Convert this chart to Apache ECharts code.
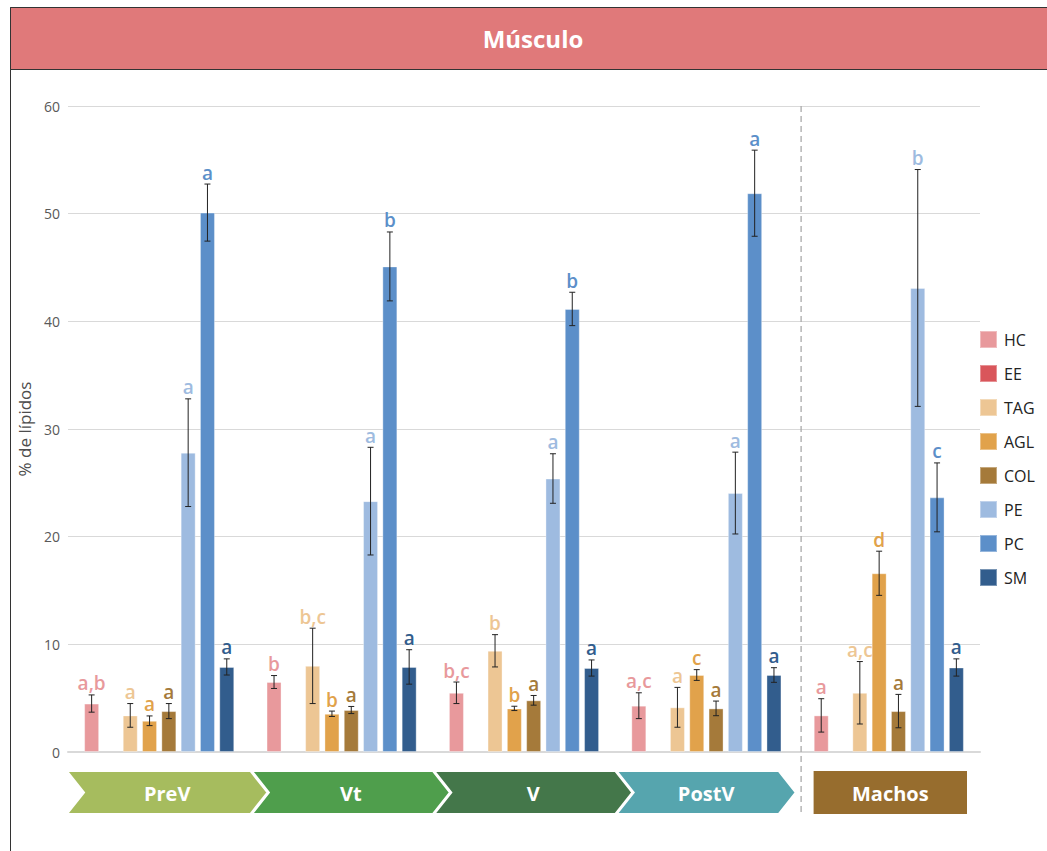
<!DOCTYPE html>
<html>
<head>
<meta charset="utf-8">
<script src="https://cdn.jsdelivr.net/npm/echarts@6/dist/echarts.min.js"></script>
<style>
  html, body { margin: 0; padding: 0; background: #fff; }
  #chart { width: 1047px; height: 851px; }
</style>
</head>
<body>
<div id="chart"></div>
<script>
// Stages / groups along the x axis
const groups = ['PreV', 'Vt', 'V', 'PostV', 'Machos'];
const groupColors = ['#A6BC5E', '#4F9E4C', '#44774A', '#56A5AE', '#976D2E'];

// Lipid classes (one bar series each)
const lipids = ['HC', 'EE', 'TAG', 'AGL', 'COL', 'PE', 'PC', 'SM'];
const lipidColors = ['#E8999C', '#D9565B', '#EDC694', '#E1A24B', '#A57A3A', '#9EBBE0', '#5C8FC9', '#325D8D'];

// Mean % of lipids per group
const hcMean  = [4.5, 6.5, 5.5, 4.3, 3.4];
const eeMean  = [null, null, null, null, null];
const tagMean = [3.4, 8.0, 9.4, 4.15, 5.5];
const aglMean = [2.9, 3.55, 4.05, 7.15, 16.6];
const colMean = [3.8, 3.9, 4.8, 4.05, 3.8];
const peMean  = [27.8, 23.3, 25.4, 24.05, 43.1];
const pcMean  = [50.1, 45.1, 41.15, 51.9, 23.65];
const smMean  = [7.9, 7.9, 7.8, 7.15, 7.85];

// Error (± deviation)
const hcErr  = [0.8, 0.6, 1.0, 1.2, 1.55];
const eeErr  = [null, null, null, null, null];
const tagErr = [1.1, 3.5, 1.5, 1.85, 2.9];
const aglErr = [0.45, 0.25, 0.2, 0.5, 2.05];
const colErr = [0.7, 0.33, 0.45, 0.68, 1.55];
const peErr  = [5.0, 5.0, 2.3, 3.8, 11.0];
const pcErr  = [2.65, 3.2, 1.55, 4.0, 3.2];
const smErr  = [0.75, 1.6, 0.75, 0.68, 0.8];

// Significance letters
const hcSig  = ['a,b', 'b', 'b,c', 'a,c', 'a'];
const eeSig  = ['', '', '', '', ''];
const tagSig = ['a', 'b,c', 'b', 'a', 'a,c'];
const aglSig = ['a', 'b', 'b', 'c', 'd'];
const colSig = ['a', 'a', 'a', 'a', 'a'];
const peSig  = ['a', 'a', 'a', 'a', 'b'];
const pcSig  = ['a', 'b', 'b', 'a', 'c'];
const smSig  = ['a', 'a', 'a', 'a', 'a'];

const yTicks = { min: 0, max: 60, interval: 10 };

const means = [hcMean, eeMean, tagMean, aglMean, colMean, peMean, pcMean, smMean];
const errs  = [hcErr, eeErr, tagErr, aglErr, colErr, peErr, pcErr, smErr];
const sigs  = [hcSig, eeSig, tagSig, aglSig, colSig, peSig, pcSig, smSig];

const BAR_W = 15;
const BAR_GAP = 0.287;
const FONT = "'Open Sans', 'Noto Sans', sans-serif";

const chart = echarts.init(document.getElementById('chart'), null, { renderer: 'svg' });

const barSeries = lipids.map((name, k) => ({
  name: name,
  type: 'bar',
  data: means[k],
  barWidth: BAR_W,
  barGap: (BAR_GAP * 100) + '%',
  itemStyle: { color: lipidColors[k], borderColor: 'rgba(255,255,255,0.35)', borderWidth: 1 },
  z: 2
}));

// Error bars and letters, placed at the same slot as the matching bar
const errSeries = lipids.map((name, k) => ({
  type: 'custom',
  name: name + '-err',
  z: 5,
  silent: true,
  data: groups.map((g, i) => [i, means[k][i], errs[k][i]]),
  renderItem: function (params, api) {
    const i = params.dataIndex;
    const m = means[k][i];
    const e = errs[k][i];
    if (m == null) return null;
    const offset = (k - (lipids.length - 1) / 2) * BAR_W * (1 + BAR_GAP);
    const top = api.coord([i, m + e]);
    const bot = api.coord([i, m - e]);
    const x = top[0] + offset;
    const cap = 3;
    const lineStyle = { stroke: '#222', lineWidth: 1 };
    return {
      type: 'group',
      children: [
        { type: 'line', shape: { x1: x, y1: top[1], x2: x, y2: bot[1] }, style: lineStyle },
        { type: 'line', shape: { x1: x - cap, y1: top[1], x2: x + cap, y2: top[1] }, style: lineStyle },
        { type: 'line', shape: { x1: x - cap, y1: bot[1], x2: x + cap, y2: bot[1] }, style: lineStyle },
        {
          type: 'text',
          style: {
            x: x, y: top[1] - 2,
            text: sigs[k][i],
            fill: lipidColors[k],
            font: '600 19px ' + FONT,
            textAlign: 'center',
            textVerticalAlign: 'bottom'
          }
        }
      ]
    };
  }
}));

// Stage chevrons under the axis, plus the dashed separator before the last group
const stageSeries = {
  type: 'custom',
  name: 'stages',
  silent: true,
  clip: false,
  z: 3,
  data: groups.map((g, i) => [i]),
  renderItem: function (params, api) {
    const i = params.dataIndex;
    const c = api.coord([i, 0]);
    const bw = api.size([1, 0])[0];
    const top = c[1] + 19;
    const h = 43;
    const tip = 17;
    let x0 = c[0] - bw / 2 + (i > 0 ? 1.5 : -1);
    let x1 = c[0] + bw / 2;
    const children = [];
    let cx;
    if (i === groups.length - 1) {
      x0 = c[0] - bw / 2 + 16;
      x1 = c[0] + bw / 2 - 13;
      children.push({
        type: 'rect',
        shape: { x: x0, y: top, width: x1 - x0, height: h },
        style: { fill: groupColors[i] }
      });
      cx = (x0 + x1) / 2;
      const sepX = c[0] - bw / 2 + 3.5;
      const gTop = api.coord([i, yTicks.max])[1];
      children.push({
        type: 'line',
        shape: { x1: sepX, y1: gTop, x2: sepX, y2: top + h + 1 },
        style: { stroke: '#AAAAAA', lineWidth: 1.3, lineDash: [6, 4] }
      });
    } else {
      if (i === groups.length - 2) x1 -= 19;
      children.push({
        type: 'polygon',
        shape: {
          points: [
            [x0, top], [x1, top], [x1 + tip, top + h / 2],
            [x1, top + h], [x0, top + h], [x0 + tip, top + h / 2]
          ]
        },
        style: { fill: groupColors[i], stroke: '#fff', lineWidth: 2 }
      });
      cx = (x0 + x1 + tip) / 2;
    }
    children.push({
      type: 'text',
      style: {
        x: cx, y: top + h / 2 + 1,
        text: groups[i],
        fill: '#fff',
        font: 'bold 20px ' + FONT,
        textAlign: 'center',
        textVerticalAlign: 'middle'
      }
    });
    return { type: 'group', children: children };
  }
};

const option = {
  backgroundColor: '#fff',
  animation: false,
  title: {
    text: 'Músculo',
    left: 528,
    top: 21,
    textAlign: 'center',
    textStyle: { color: '#fff', fontSize: 24, fontWeight: 'bold', fontFamily: FONT }
  },
  graphic: [
    {
      type: 'rect', z: -10, silent: true,
      shape: { x: 10.5, y: 7.5, width: 1045, height: 850 },
      style: { fill: 'none', stroke: '#333', lineWidth: 1 }
    },
    {
      type: 'rect', z: -5, silent: true,
      shape: { x: 10.5, y: 7.5, width: 1045, height: 62 },
      style: { fill: '#E0797A', stroke: '#333', lineWidth: 1 }
    }
  ],
  legend: {
    data: lipids,
    orient: 'vertical',
    left: 974,
    top: 325,
    itemWidth: 17,
    itemHeight: 17,
    itemGap: 15,
    icon: 'rect',
    textStyle: { color: '#222', fontSize: 16, lineHeight: 17, fontFamily: FONT, padding: [0, 0, 0, 2] }
  },
  grid: { left: 68, right: 67, top: 106, bottom: 99, containLabel: false },
  xAxis: {
    type: 'category',
    data: groups,
    axisLine: { show: true, lineStyle: { color: '#D9D9D9', width: 2 } },
    axisTick: { show: false },
    axisLabel: { show: false },
    splitLine: { show: false }
  },
  yAxis: {
    type: 'value',
    min: yTicks.min,
    max: yTicks.max,
    interval: yTicks.interval,
    name: '% de lípidos',
    nameLocation: 'middle',
    nameGap: 35,
    nameTextStyle: { color: '#4D4D4D', fontSize: 17, fontFamily: FONT },
    axisLine: { show: false },
    axisTick: { show: false },
    axisLabel: { color: '#595959', fontSize: 14, fontFamily: FONT, margin: 8 },
    splitLine: { lineStyle: { color: '#D9D9D9', width: 1 } }
  },
  series: [...barSeries, ...errSeries, stageSeries]
};

chart.setOption(option);
</script>
</body>
</html>
